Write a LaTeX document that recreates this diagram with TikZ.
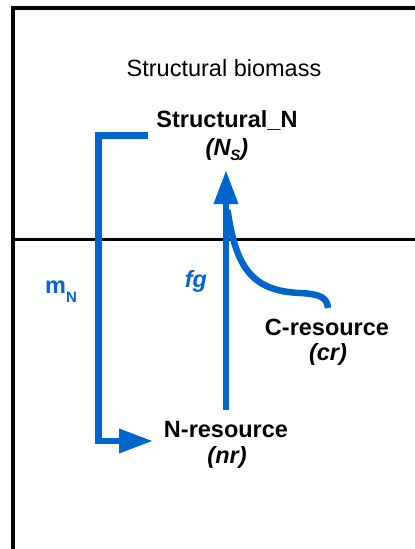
\documentclass[tikz,border=0pt]{standalone}
\usepackage{fontspec}
\setmainfont{Liberation Sans}
\usetikzlibrary{arrows.meta}
\definecolor{flowblue}{RGB}{0,102,204}
\newcommand{\mysub}[2]{#1\raisebox{-5pt}{\fontsize{15}{16}\selectfont #2}}
\begin{document}
\begin{tikzpicture}[x=1pt,y=-1pt,
  frame/.style={line width=4pt, black, line join=miter},
  divider/.style={line width=3pt, black},
  flow/.style={line width=6.5pt, flowblue, line join=miter},
  bigtip/.style={-{Triangle[length=34pt,width=23pt]}},
  plain/.style={font=\fontsize{23.5}{26}\selectfont, anchor=base, inner sep=0pt},
  lbl/.style={font=\fontsize{23.5}{26}\selectfont\bfseries, anchor=base, inner sep=0pt},
  lblit/.style={font=\fontsize{23.5}{26}\selectfont\bfseries\itshape, anchor=base, inner sep=0pt},
  flowlbl/.style={font=\fontsize{23.5}{26}\selectfont\bfseries, text=flowblue, anchor=base, inner sep=0pt}
]
\useasboundingbox (0,0) rectangle (415,549);
% frame
\draw[frame] (415,8) -- (13,8) -- (13,549);
\draw[divider] (15,239) -- (415,239);
% texts
\node[plain] (biomass) at (224,76) {Structural biomass};
\node[lbl] (sn) at (227,127) {Structural\_N};
\node[lblit] (sns) at (227,155) {(\mysub{N}{S})};
\node[lbl] (cres) at (327,335) {C-resource};
\node[lblit] (cr) at (328,360) {(cr)};
\node[lbl] (nres) at (226,437) {N-resource};
\node[lblit] (nr) at (227,463) {(nr)};
\node[flowlbl] (mn) at (61,293) {m\raisebox{-9pt}{\fontsize{15}{16}\selectfont N}};
\node[flowlbl, font=\fontsize{23.5}{26}\selectfont\bfseries\itshape] (fg) at (196,287) {fg};
% connector coordinates
\coordinate (mtop) at (148,135.5);
\coordinate (mcorner) at (98.5,135.5);
\coordinate (mbottom) at (98.5,441);
\coordinate (mend) at (153,441);
\coordinate (fgstart) at (226,410);
\coordinate (fgend) at (226,170);
\coordinate (cstart) at (227.5,210);
\coordinate (cend) at (328,308);
% flows
\draw[flow, bigtip] (mtop) -- (mcorner) -- (mbottom) -- (mend);
\draw[flow, bigtip] (fgstart) -- (fgend);
\draw[flow] (cstart) .. controls (236,268) and (252,291) .. (300,293)
  .. controls (321,294) and (327,298) .. (cend);
\end{tikzpicture}
\end{document}
